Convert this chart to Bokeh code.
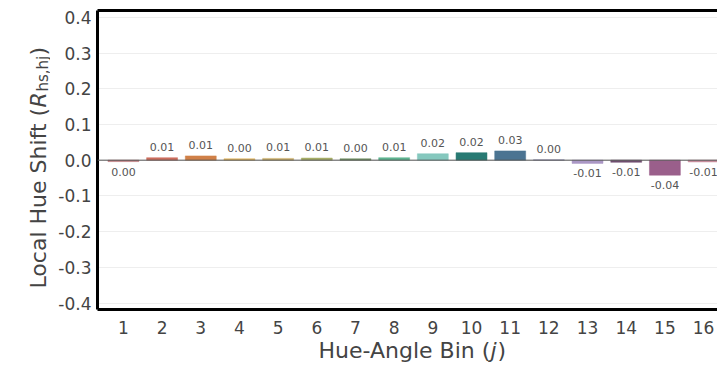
import math
from bokeh.plotting import figure
from bokeh.layouts import column, row
from bokeh.models import (ColumnDataSource, FixedTicker, NumeralTickFormatter, Span,
                          Label, LinearAxis)
from bokeh.core.properties import value
from bokeh.embed import file_html
from bokeh.resources import INLINE

# ---- data ----
bins = list(range(1, 17))
shift = [-0.004, 0.007, 0.012, 0.004, 0.005, 0.006, 0.004, 0.007,
         0.018, 0.021, 0.026, 0.001, -0.009, -0.006, -0.042, -0.005]
bar_labels = ["0.00", "0.01", "0.01", "0.00", "0.01", "0.01", "0.00", "0.01",
              "0.02", "0.02", "0.03", "0.00", "-0.01", "-0.01", "-0.04", "-0.01"]
colors = ["#b56a70", "#cd6e5e", "#d08048", "#e0b35e", "#c9ad66", "#a7ae68",
          "#6f9062", "#5db491", "#85c8be", "#287a73", "#4b7492", "#8f90b5",
          "#aa97c5", "#704f70", "#9a5f8b", "#c98e9d"]
y_ticks = [-0.4, -0.3, -0.2, -0.1, 0.0, 0.1, 0.2, 0.3, 0.4]

FONT = "DejaVu Sans"
TXT = "#444444"

src = ColumnDataSource(dict(x=bins, top=shift, color=colors, lab=bar_labels))
pos = ColumnDataSource(dict(x=[b for b, v in zip(bins, shift) if v >= 0],
                            y=[v for v in shift if v >= 0],
                            lab=[l for l, v in zip(bar_labels, shift) if v >= 0]))
neg = ColumnDataSource(dict(x=[b for b, v in zip(bins, shift) if v < 0],
                            y=[v for v in shift if v < 0],
                            lab=[l for l, v in zip(bar_labels, shift) if v < 0]))

# ---- main chart ----
p = figure(width=667, height=338, output_backend="svg", toolbar_location=None,
           x_range=(0.33, 16.36), y_range=(-0.418, 0.419),
           min_border_left=47, min_border_right=0, min_border_top=10,
           min_border_bottom=29)
p.outline_line_color = None
p.background_fill_color = "white"
p.border_fill_color = "white"

p.ygrid.grid_line_color = "#eeeeee"
p.ygrid.grid_line_width = 1
p.xgrid.grid_line_color = None

p.add_layout(Span(location=0, dimension="width", line_color="#555555", line_width=1))

p.vbar(x="x", top="top", bottom=0, width=0.8, fill_color="color",
       line_color="color", line_width=0.5, source=src)

p.text(x="x", y="y", text="lab", source=pos, text_align="center",
       text_baseline="bottom", y_offset=-7, text_font=value(FONT),
       text_font_size="11px", text_color="#555555")
p.text(x="x", y="y", text="lab", source=neg, text_align="center",
       text_baseline="top", y_offset=6, text_font=value(FONT),
       text_font_size="11px", text_color="#555555")

for ax in (p.xaxis[0], p.yaxis[0]):
    ax.axis_line_color = "black"
    ax.axis_line_width = 3
    ax.major_tick_line_color = None
    ax.minor_tick_line_color = None
    ax.major_label_text_font = FONT
    ax.major_label_text_font_size = "17px"
    ax.major_label_text_color = TXT
    ax.axis_label = None

p.yaxis.ticker = FixedTicker(ticks=y_ticks)
p.yaxis.formatter = NumeralTickFormatter(format="0.0")
p.yaxis.major_label_standoff = 0
p.xaxis.ticker = FixedTicker(ticks=bins)
p.xaxis.major_label_standoff = 5

top_ax = LinearAxis(axis_line_color="black", axis_line_width=3,
                    major_tick_line_color=None, minor_tick_line_color=None,
                    major_label_text_font_size="0px", major_label_standoff=0,
                    major_tick_out=0, major_tick_in=0)
top_ax.ticker = FixedTicker(ticks=[])
p.add_layout(top_ax, "above")


# ---- axis titles (normal / italic / subscript pieces) in their own strips ----
def strip(w, h):
    f = figure(width=w, height=h, output_backend="svg", toolbar_location=None,
               min_border=0, x_axis_type=None, y_axis_type=None)
    f.outline_line_color = None
    f.grid.visible = False
    f.border_fill_color = "white"
    f.background_fill_color = "white"
    return f


def lab(f, text, x, y, size, angle=0.0, style="normal"):
    f.add_layout(Label(x=x, y=y, x_units="screen", y_units="screen", text=text,
                       angle=angle, text_font=FONT, text_font_size=size,
                       text_font_style=style, text_color=TXT,
                       text_align="left", text_baseline="alphabetic"))


A = math.pi / 2
ytitle = strip(50, 338)
lab(ytitle, "Local Hue Shift (", 38, 21, "22px", A)
lab(ytitle, "R", 38, 202, "22px", A, "italic")
lab(ytitle, "hs,hj", 42, 218, "15px", A)
lab(ytitle, ")", 38, 254, "22px", A)

xtitle = strip(717, 30)
lab(xtitle, "Hue-Angle Bin (", 318, 18, "22px")
lab(xtitle, "j", 490, 18, "22px", style="italic")
lab(xtitle, ")", 497, 18, "22px")

layout = column(row(ytitle, p, spacing=0), xtitle, spacing=0)

open("out.html", "w").write(file_html(layout, INLINE))
